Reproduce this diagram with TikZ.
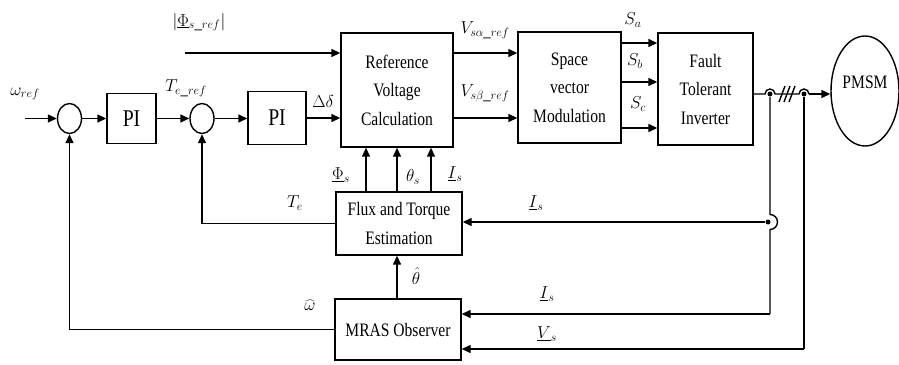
\documentclass[tikz,border=0pt]{standalone}
\usepackage{fontspec}
\setmainfont{Liberation Serif}[FakeStretch=0.82]
\usetikzlibrary{arrows.meta,shapes.geometric,calc}
\begin{document}
\begin{tikzpicture}[x=1pt,y=-1pt,line width=1.4pt,
  arr/.style={-{Triangle[length=9pt,width=8pt]}},
  blk/.style={draw,inner sep=0pt,align=center,font=\fontsize{19}{28.5}\selectfont},
  sumc/.style={draw,ellipse,inner sep=0pt,minimum width=24pt,minimum height=30pt},
  lbl/.style={inner sep=0pt,font=\fontsize{18}{20}\selectfont},
  dot/.style={fill,circle,inner sep=0pt,minimum size=5pt}]
\useasboundingbox (0,0) rectangle (899,364);
% blocks
\node[sumc] (c1) at (69.5,118.5) {};
\node[sumc] (c2) at (202,118.5) {};
\node[blk,minimum width=49pt,minimum height=50pt,font=\fontsize{24}{28}\selectfont] (pi1) at (131.5,118.5) {PI};
\node[blk,minimum width=58pt,minimum height=53pt,font=\fontsize{24}{28}\selectfont] (pi2) at (277,118) {PI};
\node[blk,minimum width=112pt,minimum height=114pt] (rvc) at (397,90) {Reference\\Voltage\\Calculation};
\node[blk,minimum width=103pt,minimum height=111pt] (svm) at (569.5,87.5) {Space\\vector\\Modulation};
\node[blk,minimum width=95pt,minimum height=112pt] (fti) at (705.5,89) {Fault\\Tolerant\\Inverter};
\node[blk,minimum width=126pt,minimum height=63pt] (flux) at (399,223.5) {Flux and Torque\\Estimation};
\node[blk,minimum width=126pt,minimum height=61pt] (mras) at (398,329.5) {MRAS Observer};
\node[draw,ellipse,inner sep=0pt,minimum width=68pt,minimum height=110pt] (pmsm) at (865,91) {};
\node[blk,draw=none] (pmsmt) at (865,82) {PMSM};
% helper coordinates
\coordinate (win) at (25,118.5);
\coordinate (phin) at (185,53);
\coordinate (sa) at (0,43);
\coordinate (sb) at (0,82);
\coordinate (sc) at (0,128);
\coordinate (u1) at (366,0);
\coordinate (u2) at (397,0);
\coordinate (u3) at (431,0);
\coordinate (h1) at (770,94);
\coordinate (h2) at (804,94);
\coordinate (j) at (770,222);
\coordinate (b1) at (770,314);
\coordinate (b2) at (804,349);
% forward path
\draw[arr] (win) -- (c1.west);
\draw[arr] (c1.east) -- (pi1.west);
\draw[arr] (pi1.east) -- (c2.west);
\draw[arr] (c2.east) -- (pi2.west |- c2.east);
\draw[arr] (pi2.east) -- (rvc.west |- pi2.east);
\draw[arr] (phin) -- (rvc.west |- phin);
\draw[arr] (rvc.east |- phin) -- (svm.west |- phin);
\draw[arr] (rvc.east |- pi2.east) -- (svm.west |- pi2.east);
\draw[arr] (svm.east |- sa) -- (fti.west |- sa);
\draw[arr] (svm.east |- sb) -- (fti.west |- sb);
\draw[arr] (svm.east |- sc) -- (fti.west |- sc);
% inverter to motor with hops
\draw (fti.east |- h1) -- ($(h1)+(-5,0)$) arc[start angle=180,end angle=0,radius=5pt]
  -- ($(h2)+(-5,0)$) arc[start angle=180,end angle=0,radius=5pt];
\draw[arr] ($(h2)+(5,0)$) -- (pmsm.west |- h2);
\draw (779,102) -- (785,86) (784,102) -- (790,86) (789,102) -- (795,86);
\node[dot] (d1) at (h1) {};
\node[dot] (d2) at (h2) {};
% measurement lines
\draw (d1) -- ($(j)+(0,-7.5)$) arc[start angle=90,end angle=-90,radius=7.5pt] -- (b1);
\draw[arr] (b1) -- (mras.east |- b1);
\draw (d2) -- (b2);
\draw[arr] (b2) -- (mras.east |- b2);
\node[dot] (dj) at ($(j)+(-2,0)$) {};
\draw[arr] (dj) -- (flux.east |- dj);
% estimation to RVC
\draw[arr] (flux.north -| u1) -- (rvc.south -| u1);
\draw[arr] (flux.north -| u2) -- (rvc.south -| u2);
\draw[arr] (flux.north -| u3) -- (rvc.south -| u3);
\draw[arr] (mras.north -| u2) -- (flux.south -| u2);
% feedback
\draw[arr] (flux.west) -| (c2.south);
\draw[arr] (mras.west) -| (c1.south);
% labels
\node[lbl] (l1) at (25,94) {$\omega_{ref}$};
\node[lbl] (l2) at (186,88) {$T_{e\_ref}$};
\node[lbl] (l3) at (199,22) {$\left|\underline{\Phi}_{s\_ref}\right|$};
\node[lbl] (l4) at (323,101) {$\Delta\delta$};
\node[lbl] (l5) at (485,30) {$V_{s\alpha\_ref}$};
\node[lbl] (l6) at (485,93) {$V_{s\beta\_ref}$};
\node[lbl] (l7) at (633,20) {$S_a$};
\node[lbl] (l8) at (635,61) {$S_b$};
\node[lbl] (l9) at (638,104) {$S_c$};
\node[lbl] (l10) at (341,175) {$\underline{\Phi}_s$};
\node[lbl] (l11) at (413,177) {$\theta_s$};
\node[lbl] (l12) at (455,174) {$\underline{I}_s$};
\node[lbl] (l13) at (295,203) {$T_e$};
\node[lbl] (l14) at (536,203) {$\underline{I}_s$};
\node[lbl] (l15) at (416,276) {$\hat{\theta}$};
\node[lbl] (l16) at (310,305) {$\widehat{\omega}$};
\node[lbl] (l17) at (547,294) {$\underline{I}_s$};
\node[lbl] (l18) at (547,334) {$\underline{V}_s$};
\end{tikzpicture}
\end{document}
